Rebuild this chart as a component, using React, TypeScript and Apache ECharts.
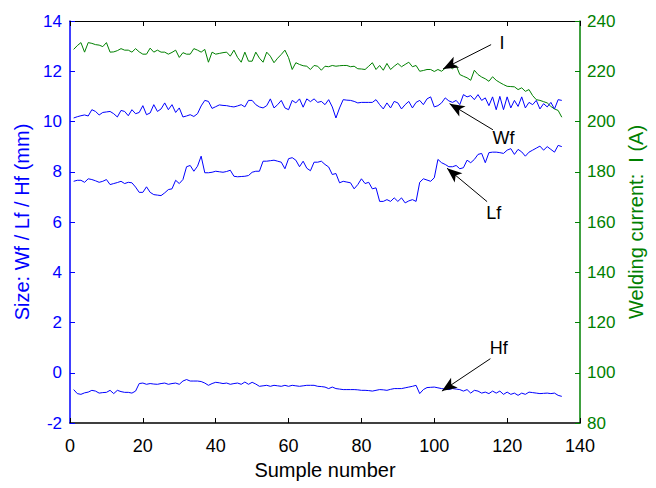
import React, { useEffect, useRef } from "react";
import * as echarts from "echarts";

// Sample numbers 1..135
const sampleNumbers: number[] = Array.from({ length: 135 }, (_, i) => i + 1);

// Welding current I (A) – right axis
const currentI: number[] = [
  228.7, 230.2, 231.4, 227.6, 231.4, 231.1, 230.6, 230.4, 229.8, 231.4,
  227.6, 227.7, 228.2, 229, 228.4, 228.4, 227.6, 229, 227.7, 226.8,
  226.8, 229.2, 227.6, 228.4, 227.6, 227.6, 226.8, 227.5, 228.4, 225.5,
  227.4, 226.8, 226.8, 229, 228.4, 227.6, 228.7, 223.6, 227.6, 226.8,
  227.1, 227.4, 227.6, 226, 228.4, 225.5, 223.6, 227.6, 224, 224,
  227.6, 225.2, 223.6, 227.6, 226, 223.4, 225.2, 226.7, 228.4, 225.4,
  220.7, 223.4, 222.7, 222.2, 222, 220.7, 222.3, 222, 220.4, 222,
  221.8, 222.3, 222, 222.2, 222.3, 222.3, 221.8, 222, 221, 220.9,
  220.7, 222, 223.4, 220.7, 222.3, 220.4, 223.1, 220.7, 222, 223.1,
  221.8, 222.7, 223.6, 221.8, 222.3, 220, 220.3, 220.7, 220.7, 219.9,
  220.7, 220, 221.2, 222, 221, 222.3, 218.7, 218, 217.4, 216.4,
  220.4, 218.7, 217.7, 217, 216, 217.8, 216.4, 215.5, 214.7, 214,
  213.9, 213.8, 212.7, 213.4, 212, 212.7, 210.3, 208.7, 208.4, 207.9,
  207.4, 206, 205, 204.4, 201.7,
];

// Weld width Wf (mm)
const widthWf: number[] = [
  10.14, 10.19, 10.23, 10.26, 10.22, 10.47, 10.4, 10.26, 10.36, 10.38,
  10.4, 10.31, 10.18, 10.44, 10.4, 10.23, 10.47, 10.31, 10.36, 10.63,
  10.27, 10.34, 10.67, 10.4, 10.5, 10.74, 10.47, 10.67, 10.36, 10.54,
  10.18, 10.22, 10.27, 10.2, 10.31, 10.62, 10.84, 10.8, 10.52, 10.59,
  10.66, 10.64, 10.63, 10.6, 10.58, 10.62, 10.67, 10.58, 10.84, 10.84,
  10.67, 10.58, 10.54, 10.63, 10.9, 10.54, 10.67, 10.84, 10.54, 10.47,
  10.84, 10.74, 10.9, 10.57, 10.9, 10.79, 10.9, 10.76, 10.8, 10.67,
  10.87, 10.58, 10.14, 10.54, 10.87, 10.85, 10.84, 10.8, 10.74, 10.76,
  10.76, 10.76, 10.76, 10.87, 10.67, 10.5, 10.74, 10.54, 10.8, 10.74,
  10.5, 10.67, 10.8, 10.54, 10.76, 10.84, 10.67, 10.9, 10.98, 10.58,
  10.63, 10.74, 10.94, 10.82, 10.76, 10.84, 10.67, 11.07, 10.98, 11.03,
  10.87, 11.07, 10.84, 10.94, 10.63, 10.98, 10.47, 11, 10.47, 10.98,
  10.54, 10.84, 10.6, 10.98, 10.54, 10.76, 10.67, 10.84, 10.5, 10.71,
  10.58, 10.76, 10.5, 10.87, 10.84,
];

// Weld length Lf (mm)
const lengthLf: number[] = [
  7.62, 7.66, 7.66, 7.58, 7.72, 7.69, 7.64, 7.58, 7.62, 7.69,
  7.49, 7.53, 7.57, 7.62, 7.53, 7.58, 7.56, 7.39, 7.18, 7.18,
  7.4, 7.18, 7.09, 7.07, 7.05, 7.16, 7.29, 7.32, 7.66, 7.53,
  7.69, 8.2, 8.25, 8.02, 8.22, 8.62, 7.96, 7.96, 7.98, 8.02,
  8, 7.98, 8.01, 8.06, 7.82, 7.8, 7.81, 7.82, 7.85, 7.98,
  8.02, 8.02, 8.42, 8.42, 8.44, 8.46, 8.42, 8.38, 8.12, 8.52,
  8.56, 8.46, 8.2, 8.42, 8.14, 8.04, 8.38, 8.38, 8.42, 8.29,
  8.19, 7.89, 7.93, 7.56, 7.62, 7.59, 7.56, 7.32, 7.49, 7.72,
  7.53, 7.58, 7.32, 7.36, 6.82, 6.82, 6.89, 6.82, 6.96, 6.82,
  6.96, 6.76, 6.84, 6.89, 6.82, 7.58, 7.72, 7.67, 7.62, 7.76,
  8.49, 8.36, 8.29, 8.2, 8.2, 8.25, 8.12, 8.16, 8.46, 8.36,
  8.49, 8.69, 8.73, 8.36, 8.76, 8.78, 8.78, 8.76, 8.73, 8.86,
  8.92, 8.69, 8.89, 8.79, 8.62, 8.78, 8.86, 8.94, 9.02, 8.86,
  9, 8.89, 8.78, 9.05, 9,
];

// Weld height Hf (mm)
const heightHf: number[] = [
  -0.67, -0.83, -0.86, -0.8, -0.77, -0.7, -0.73, -0.81, -0.79, -0.78,
  -0.7, -0.83, -0.7, -0.75, -0.78, -0.78, -0.81, -0.73, -0.43, -0.41,
  -0.46, -0.43, -0.45, -0.46, -0.43, -0.41, -0.46, -0.43, -0.41, -0.46,
  -0.33, -0.27, -0.33, -0.33, -0.33, -0.35, -0.41, -0.5, -0.43, -0.38,
  -0.4, -0.43, -0.41, -0.46, -0.43, -0.41, -0.46, -0.37, -0.46, -0.38,
  -0.45, -0.54, -0.52, -0.5, -0.54, -0.5, -0.52, -0.54, -0.5, -0.54,
  -0.5, -0.52, -0.54, -0.52, -0.5, -0.5, -0.5, -0.54, -0.55, -0.57,
  -0.63, -0.57, -0.63, -0.65, -0.67, -0.67, -0.67, -0.67, -0.68, -0.7,
  -0.7, -0.71, -0.73, -0.7, -0.67, -0.68, -0.7, -0.66, -0.63, -0.63,
  -0.63, -0.6, -0.57, -0.54, -0.5, -0.83, -0.67, -0.59, -0.58, -0.57,
  -0.6, -0.63, -0.65, -0.67, -0.63, -0.65, -0.67, -0.73, -0.67, -0.81,
  -0.7, -0.73, -0.81, -0.77, -0.83, -0.73, -0.81, -0.73, -0.86, -0.77,
  -0.86, -0.81, -0.9, -0.81, -0.86, -0.77, -0.79, -0.81, -0.83, -0.82,
  -0.81, -0.83, -0.81, -0.9, -0.94,
];

// Axis ranges / ticks
const xTicks = { min: 0, max: 140, interval: 20 };
const leftTicks = { min: -2, max: 14, interval: 2 };
const rightTicks = { min: 80, max: 240, interval: 20 };

// Annotations in data coordinates: [label, labelPos, arrowTail, arrowTip]
const annI = { text: "I", label: [118.6, 231.3], tail: [115.6, 230.6], tip: [102.4, 220.9] };
const annWf = { text: "Wf", label: [119.0, 9.34], tail: [116.1, 9.67], tip: [104.2, 10.71] };
const annLf = { text: "Lf", label: [116.3, 6.36], tail: [114.5, 6.81], tip: [103.5, 8.14] };
const annHf = { text: "Hf", label: [117.7, 1.0], tail: [115.4, 0.56], tip: [102.1, -0.73] };

const BLUE = "#0000ff";
const GREEN = "#008000";
const FONT = "'Liberation Sans', Arial, Helvetica, sans-serif";

const pairs = (ys: number[]) => ys.map((y, i) => [sampleNumbers[i], y]);

const annotationParts = (a: { text: string; label: number[]; tail: number[]; tip: number[] }) => ({
  markLine: {
    silent: true,
    animation: false,
    symbol: ["none", "arrow"],
    symbolSize: [9, 15],
    label: { show: false },
    lineStyle: { color: "#000", width: 1, type: "solid" },
    emphasis: { disabled: true },
    data: [[{ coord: a.tail }, { coord: a.tip }]],
  },
  markPoint: {
    silent: true,
    animation: false,
    symbol: "circle",
    symbolSize: 1,
    itemStyle: { color: "rgba(0,0,0,0)" },
    label: {
      show: true,
      position: "inside",
      formatter: a.text,
      color: "#000",
      fontSize: 18,
      fontFamily: FONT,
    },
    data: [{ coord: a.label, value: a.text }],
  },
});

export default function App() {
  const ref = useRef<HTMLDivElement>(null);

  useEffect(() => {
    if (!ref.current) return;
    const chart = echarts.init(ref.current, undefined, { renderer: "svg" });
    const lineSeries = (name: string, data: number[], color: string, yAxisIndex: number, ann: any) => ({
      name,
      type: "line",
      yAxisIndex,
      xAxisIndex: 0,
      data: pairs(data),
      showSymbol: false,
      symbol: "none",
      lineStyle: { color, width: 1 },
      itemStyle: { color },
      emphasis: { disabled: true },
      z: 2,
      ...annotationParts(ann),
    });

    chart.setOption({
      animation: false,
      backgroundColor: "#ffffff",
      textStyle: { fontFamily: FONT },
      grid: { left: 70, right: 76, top: 21, bottom: 65, containLabel: false, outerBoundsMode: "none" },
      xAxis: [
        {
          type: "value",
          position: "bottom",
          ...xTicks,
          name: "Sumple number",
          nameLocation: "middle",
          nameGap: 36,
          nameTextStyle: { color: "#000", fontSize: 20, fontFamily: FONT },
          axisLine: { show: true, onZero: false, lineStyle: { color: "#000", width: 1.5 } },
          axisTick: { show: true, inside: true, length: 5, lineStyle: { color: "#000" } },
          axisLabel: { color: "#000", fontSize: 18, margin: 14, fontFamily: FONT },
          splitLine: { show: false },
        },
        {
          type: "value",
          position: "top",
          ...xTicks,
          axisLine: { show: true, onZero: false, lineStyle: { color: "#000", width: 1 } },
          axisTick: { show: true, inside: true, length: 5, lineStyle: { color: "#000" } },
          axisLabel: { show: false },
          splitLine: { show: false },
        },
      ],
      yAxis: [
        {
          type: "value",
          position: "left",
          ...leftTicks,
          name: "Size: Wf / Lf / Hf (mm)",
          nameLocation: "middle",
          nameGap: 35,
          nameTextStyle: { color: BLUE, fontSize: 20, fontFamily: FONT },
          axisLine: { show: true, onZero: false, lineStyle: { color: BLUE, width: 1.5 } },
          axisTick: { show: true, inside: true, length: 5, lineStyle: { color: BLUE } },
          axisLabel: { color: BLUE, fontSize: 17, margin: 8, fontFamily: FONT },
          splitLine: { show: false },
        },
        {
          type: "value",
          position: "right",
          ...rightTicks,
          name: "Welding current:  I (A)",
          nameLocation: "middle",
          nameGap: 46,
          nameTextStyle: { color: GREEN, fontSize: 20, fontFamily: FONT },
          axisLine: { show: true, onZero: false, lineStyle: { color: GREEN, width: 1.5 } },
          axisTick: { show: true, inside: true, length: 5, lineStyle: { color: GREEN } },
          axisLabel: { color: GREEN, fontSize: 17, margin: 7, fontFamily: FONT },
          splitLine: { show: false },
        },
      ],
      series: [
        lineSeries("I", currentI, GREEN, 1, annI),
        lineSeries("Wf", widthWf, BLUE, 0, annWf),
        lineSeries("Lf", lengthLf, BLUE, 0, annLf),
        lineSeries("Hf", heightHf, BLUE, 0, annHf),
      ],
    });

    return () => chart.dispose();
  }, []);

  return (
    <div
      ref={ref}
      style={{ position: "fixed", left: 0, top: 0, width: 656, height: 488, background: "#fff" }}
    />
  );
}
